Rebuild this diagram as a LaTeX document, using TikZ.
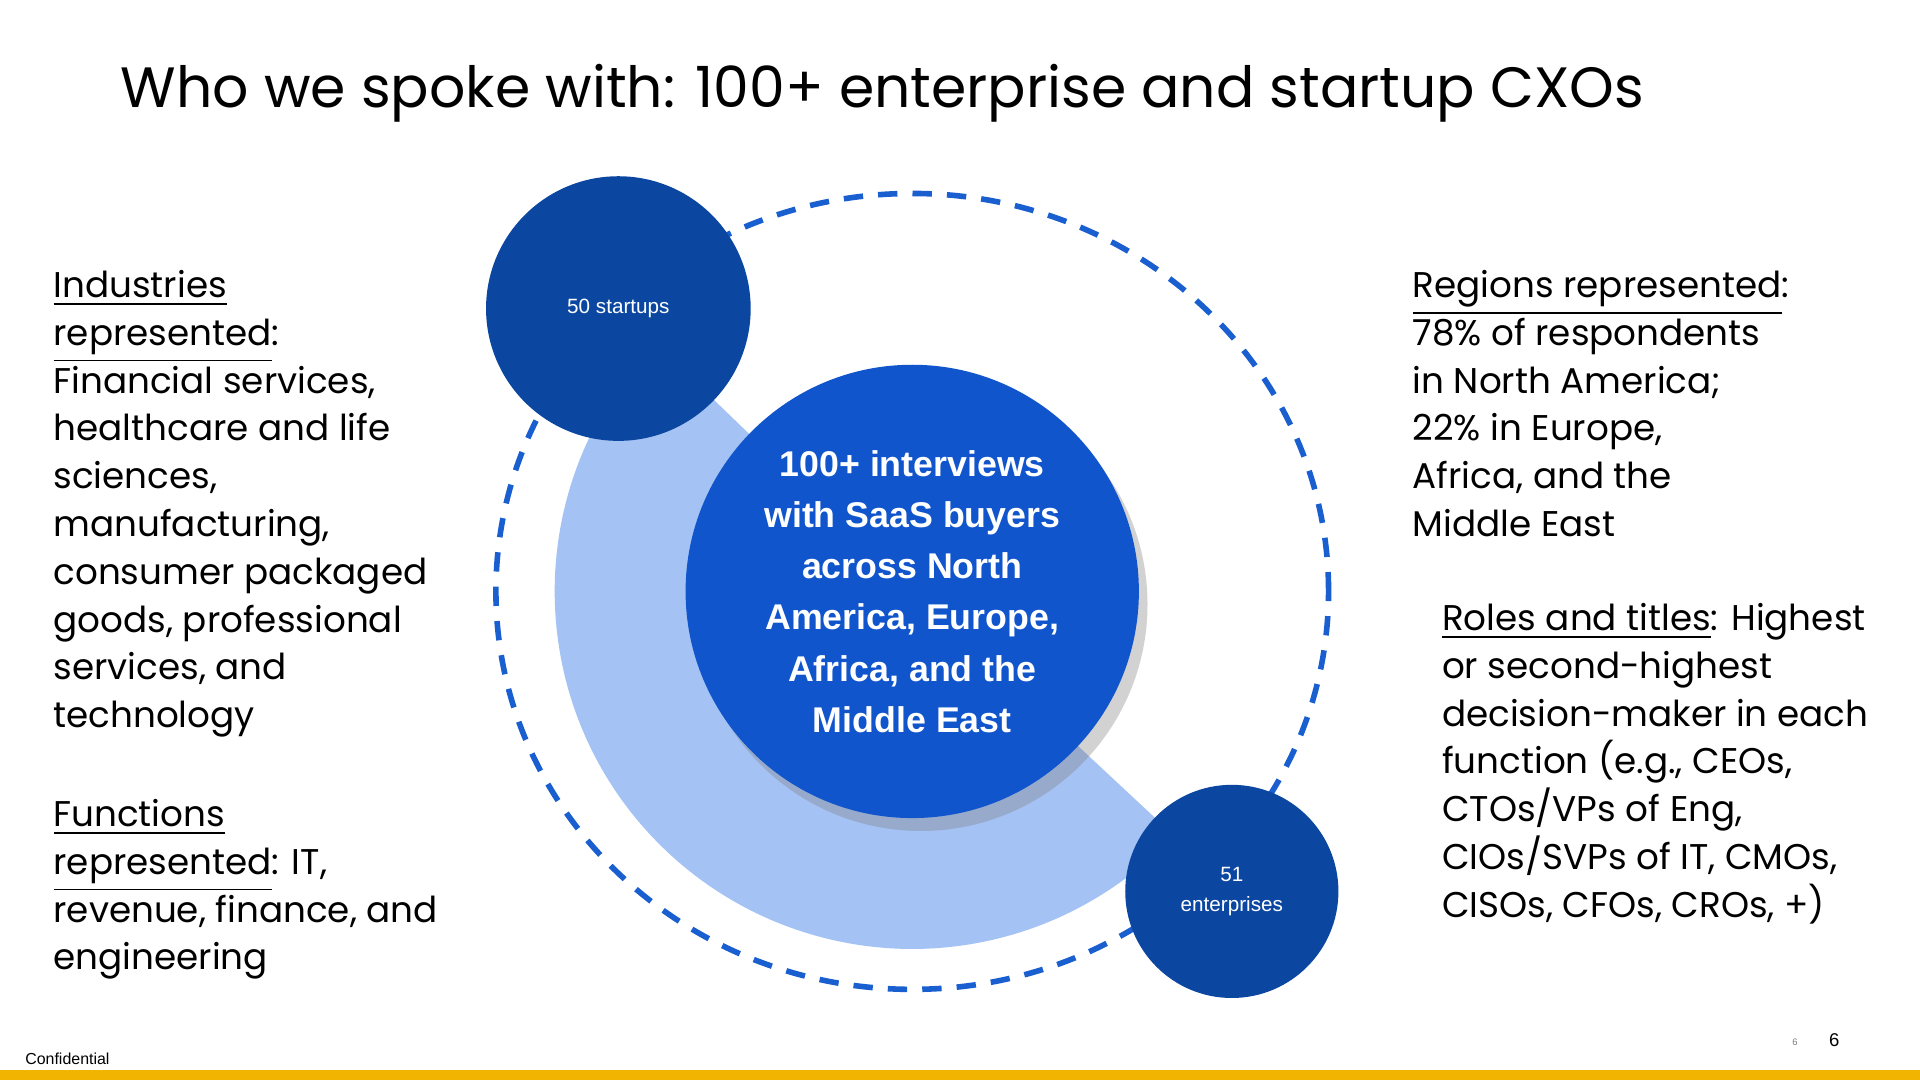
\documentclass[tikz,border=0pt]{standalone}
\usepackage{fontspec}
\setmainfont{Poppins}
\newfontfamily\labelfont{Liberation Sans}
\usetikzlibrary{shadows}
\definecolor{midblue}{HTML}{1155CC}
\definecolor{darkblue}{HTML}{0B47A1}
\definecolor{paleblue}{HTML}{A4C2F4}
\definecolor{dashblue}{HTML}{1A5FD0}
\definecolor{goldbar}{HTML}{F1B400}
\begin{document}
\begin{tikzpicture}[x=0.01cm,y=0.01cm]
		\tikzstyle{body text} = [anchor=north west, align=left, inner sep=0pt, font=\fontsize{8.3}{11.1}\selectfont]
		\tikzstyle{small ball} = [circle, fill=darkblue, text=white, align=center, font=\labelfont\fontsize{4.8}{6.8}\selectfont]

		\useasboundingbox[fill=white] (0,0) rectangle (1568,882);
		\fill[goldbar] (0,0) rectangle (1568,8);

		\node[anchor=base west, inner sep=0pt, font=\fontsize{13.2}{16}\selectfont] (title) at (98,794)
			{Who we spoke with: 100+ enterprise and startup CXOs};

		% rings
		\draw[dashblue, line width=1.3pt, dash pattern=on 4.5pt off 3.5pt] (745,399) ellipse [x radius=340, y radius=325];
		\fill[paleblue] (745,399) -- ++(136:292) arc[start angle=136, end angle=317, radius=292] -- cycle;

		\node[circle, fill=midblue, minimum size=3.7cm, text=white, align=center, drop shadow={opacity=0.35, shadow xshift=2pt, shadow yshift=-3pt},
			font=\labelfont\bfseries\fontsize{8.3}{11.9}\selectfont] (core) at (745,399)
			{100+ interviews\\with SaaS buyers\\across North\\America, Europe,\\Africa, and the\\Middle East};

		\node[small ball, minimum size=2.16cm] (startups) at (505,630) {50 startups};
		\node[small ball, minimum size=1.74cm] (enterprises) at (1006,154) {51\\enterprises};

		% side texts
		\node[body text] (industries) at (43,662)
			{\underline{Industries}\\\underline{represented}:\\Financial services,\\healthcare and life\\sciences,\\manufacturing,\\consumer packaged\\goods, professional\\services, and\\technology};
		\node[body text] (functions) at (43,230)
			{\underline{Functions}\\\underline{represented}: IT,\\revenue, finance, and\\engineering};
		\node[body text] (regions) at (1153,662)
			{\underline{Regions represented}:\\78\% of respondents\\in North America;\\22\% in Europe,\\Africa, and the\\Middle East};
		\node[body text] (roles) at (1177,390)
			{\underline{Roles and titles}: Highest\\or second-highest\\decision-maker in each\\function (e.g., CEOs,\\CTOs/VPs of Eng,\\CIOs/SVPs of IT, CMOs,\\CISOs, CFOs, CROs, +)};

		\node[anchor=base west, inner sep=0pt, font=\labelfont\fontsize{3.7}{4}\selectfont] (confidential) at (20,13) {Confidential};
		\node[anchor=base, inner sep=0pt, text=gray, font=\labelfont\fontsize{2.2}{3}\selectfont] (pagesmall) at (1466,28) {6};
		\node[anchor=base, inner sep=0pt, font=\labelfont\fontsize{4.3}{5}\selectfont] (page) at (1498,27) {6};
\end{tikzpicture}
\end{document}
